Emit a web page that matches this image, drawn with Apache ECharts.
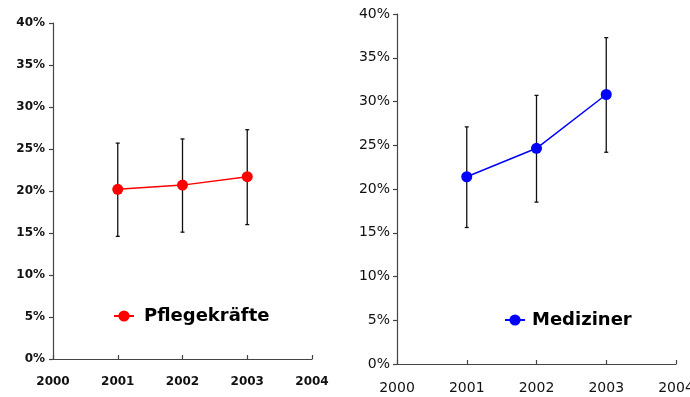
<!DOCTYPE html>
<html>
<head>
<meta charset="utf-8">
<script src="https://cdn.jsdelivr.net/npm/echarts@6/dist/echarts.min.js"></script>
<style>
html,body{margin:0;padding:0;background:#fff;}
#chart{width:690px;height:397px;}
</style>
</head>
<body>
<div id="chart"></div>
<script>
// Data
const years = [2001, 2002, 2003];
const pflegeMean = [20.2, 20.7, 21.7];
const pflegeLow  = [14.6, 15.1, 16.0];
const pflegeHigh = [25.7, 26.2, 27.3];
const medMean = [21.4, 24.65, 30.8];
const medLow  = [15.6, 18.5, 24.2];
const medHigh = [27.1, 30.7, 37.3];
const xMin = 2000, xMax = 2004, xStep = 1;
const yMin = 0, yMax = 40, yStep = 5;

const chart = echarts.init(document.getElementById('chart'), null, {renderer: 'canvas'});
const axisColor = '#444';
const font = 'DejaVu Sans';

function errRender(params, api) {
  const x = api.value(0);
  const top = api.coord([x, api.value(2)]);
  const bot = api.coord([x, api.value(1)]);
  const cw = 2;
  const st = {stroke: '#111', lineWidth: 1.3};
  return {
    type: 'group',
    children: [
      {type: 'line', shape: {x1: top[0], y1: top[1], x2: bot[0], y2: bot[1]}, style: st},
      {type: 'line', shape: {x1: top[0]-cw, y1: top[1], x2: top[0]+cw, y2: top[1]}, style: st},
      {type: 'line', shape: {x1: bot[0]-cw, y1: bot[1], x2: bot[0]+cw, y2: bot[1]}, style: st}
    ]
  };
}

function xAx(gi, bold, size) {
  return {
    type: 'value', gridIndex: gi, min: xMin, max: xMax, interval: xStep,
    axisLine: {lineStyle: {color: axisColor, width: 1.2}},
    axisTick: {inside: true, length: 4, lineStyle: {color: axisColor, width: 1.2}},
    splitLine: {show: false},
    axisLabel: {formatter: v => String(v), fontFamily: font, fontWeight: bold ? 'bold' : 'normal', fontSize: size, color: '#111', margin: 17, showMaxLabel: true, showMinLabel: true, hideOverlap: false}
  };
}
function yAx(gi, bold, size, margin) {
  return {
    type: 'value', gridIndex: gi, min: yMin, max: yMax, interval: yStep,
    axisLine: {show: true, lineStyle: {color: axisColor, width: 1.2}},
    axisTick: {show: true, length: 4, lineStyle: {color: axisColor, width: 1.2}},
    splitLine: {show: false},
    axisLabel: {formatter: '{value}%', fontFamily: font, fontWeight: bold ? 'bold' : 'normal', fontSize: size, color: '#111', margin: margin}
  };
}

chart.setOption({
  animation: false,
  backgroundColor: '#fff',
  grid: [
    {left: 53, top: 23, width: 259, height: 336, containLabel: false, outerBoundsMode: 'none'},
    {left: 397, top: 14, width: 279, height: 350, containLabel: false, outerBoundsMode: 'none'}
  ],
  xAxis: [xAx(0, true, 12), xAx(1, false, 14)],
  yAxis: [yAx(0, true, 12, 8), yAx(1, false, 14, 7)],
  legend: [
    {
      data: ['Pflegekräfte'], left: 108, top: 302, itemWidth: 20, itemHeight: 14,
      textStyle: {fontFamily: font, fontWeight: 'bold', fontSize: 18, color: '#000', padding: [0, 0, 0, 5]}
    },
    {
      data: ['Mediziner'], left: 499, top: 306, itemWidth: 20, itemHeight: 14,
      textStyle: {fontFamily: font, fontWeight: 'bold', fontSize: 18, color: '#000', padding: [0, 0, 0, 2]}
    }
  ],
  series: [
    {
      type: 'custom', xAxisIndex: 0, yAxisIndex: 0, z: 1,
      renderItem: errRender,
      data: years.map((y, i) => [y, pflegeLow[i], pflegeHigh[i]])
    },
    {
      type: 'custom', xAxisIndex: 1, yAxisIndex: 1, z: 1,
      renderItem: errRender,
      data: years.map((y, i) => [y, medLow[i], medHigh[i]])
    },
    {
      name: 'Pflegekräfte', type: 'line', xAxisIndex: 0, yAxisIndex: 0, z: 3,
      symbol: 'circle', symbolSize: 11, color: '#ff0000',
      lineStyle: {color: '#ff0000', width: 1.5},
      itemStyle: {color: '#ff0000'},
      data: years.map((y, i) => [y, pflegeMean[i]])
    },
    {
      name: 'Mediziner', type: 'line', xAxisIndex: 1, yAxisIndex: 1, z: 3,
      symbol: 'circle', symbolSize: 11, color: '#0000ff',
      lineStyle: {color: '#0000ff', width: 1.5},
      itemStyle: {color: '#0000ff'},
      data: years.map((y, i) => [y, medMean[i]])
    }
  ]
});
</script>
</body>
</html>
